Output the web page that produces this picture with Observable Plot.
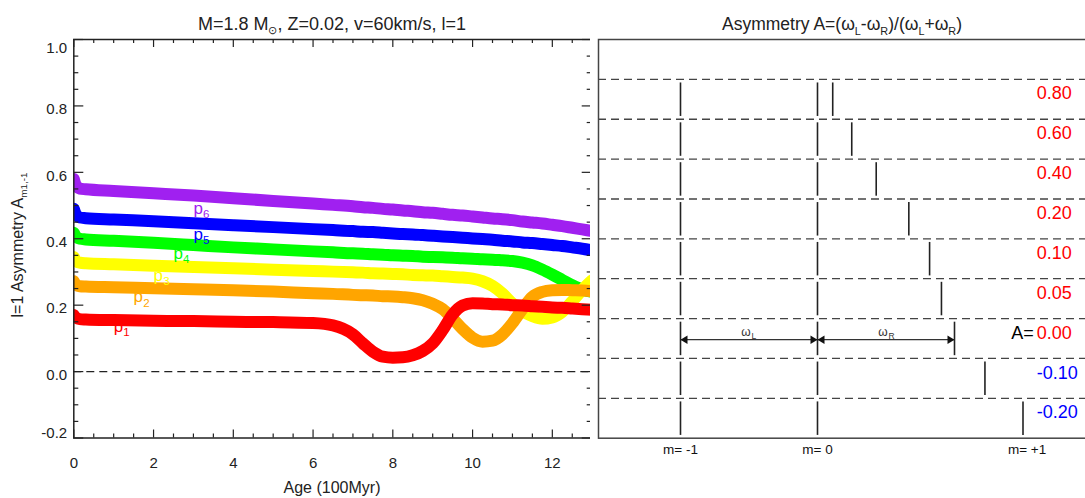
<!DOCTYPE html>
<html><head><meta charset="utf-8">
<script src="https://cdn.jsdelivr.net/npm/d3@7"></script>
<script src="https://cdn.jsdelivr.net/npm/@observablehq/plot@0.6"></script>
<style>
body{margin:0;background:#fff;overflow:hidden;font-family:"Liberation Sans",Arial,sans-serif;color:#222}
#wrap{position:relative;width:1085px;height:498px;overflow:hidden;background:#fff}
#left,#right{position:absolute;top:0}
#left{left:0}
#right{left:590px}
.t{position:absolute;white-space:nowrap;transform:translate(-50%,-50%);line-height:1}
sub{font-size:62%;vertical-align:-0.4em;line-height:0}
</style></head><body>
<div id="wrap">
  <div id="left"></div><div id="right"></div>
  <div class="t" id="t1" style="left:332px;top:24px;font-size:18px">M=1.8 M<sub>⊙</sub>, Z=0.02, v=60km/s, l=1</div>
  <div class="t" id="t2" style="left:842px;top:25px;font-size:17.5px">Asymmetry A=(ω<sub>L</sub>-ω<sub>R</sub>)/(ω<sub>L</sub>+ω<sub>R</sub>)</div>
  <div class="t" style="left:332px;top:488px;font-size:16px">Age (100Myr)</div>
  <div class="t" style="left:18px;top:245px;font-size:16px;transform:translate(-50%,-50%) rotate(-90deg)">l=1 Asymmetry A<sub>m1,-1</sub></div>
</div>
<script>
// ---------- data (left panel) ----------
const ages = [0, 0.05, 0.15, 0.3, 1, 2, 3, 4, 5, 6, 6.5, 7, 7.25, 7.5, 7.75, 8, 8.25, 8.5, 8.75, 9, 9.25, 9.5, 9.75, 10, 10.25, 10.5, 10.75, 11, 11.25, 11.5, 11.75, 12, 12.25, 12.5, 12.75, 13];
const p6 = [0.580,0.562,0.551,0.549,0.544,0.537,0.530,0.522,0.514,0.506,0.502,0.498,0.495,0.493,0.490,0.488,0.485,0.483,0.480,0.478,0.475,0.472,0.470,0.467,0.464,0.461,0.459,0.456,0.452,0.449,0.446,0.442,0.438,0.433,0.428,0.423];
const p5 = [0.490,0.474,0.464,0.462,0.458,0.453,0.447,0.441,0.435,0.429,0.426,0.423,0.421,0.420,0.418,0.416,0.414,0.413,0.411,0.409,0.407,0.405,0.403,0.401,0.399,0.397,0.394,0.392,0.389,0.387,0.384,0.381,0.378,0.374,0.370,0.365];
const p4 = [0.418,0.407,0.400,0.398,0.394,0.388,0.381,0.374,0.368,0.362,0.359,0.356,0.355,0.353,0.352,0.350,0.349,0.348,0.346,0.345,0.344,0.343,0.341,0.340,0.338,0.337,0.335,0.333,0.328,0.320,0.307,0.292,0.276,0.260,0.247,0.240];
const p3 = [0.345,0.334,0.328,0.326,0.323,0.319,0.315,0.311,0.307,0.303,0.301,0.299,0.298,0.296,0.295,0.294,0.293,0.291,0.290,0.289,0.287,0.285,0.283,0.280,0.272,0.258,0.235,0.205,0.182,0.167,0.159,0.163,0.180,0.212,0.246,0.275];
const p2 = [0.272,0.262,0.257,0.256,0.254,0.251,0.248,0.245,0.241,0.236,0.234,0.231,0.230,0.229,0.227,0.226,0.224,0.221,0.215,0.204,0.188,0.160,0.128,0.102,0.090,0.093,0.112,0.146,0.188,0.225,0.240,0.245,0.246,0.245,0.244,0.242];
const p1 = [0.170,0.162,0.158,0.157,0.155,0.153,0.152,0.150,0.149,0.146,0.139,0.112,0.085,0.060,0.045,0.042,0.043,0.049,0.062,0.085,0.125,0.172,0.199,0.206,0.205,0.203,0.202,0.200,0.199,0.197,0.195,0.193,0.192,0.190,0.188,0.186];
const seriesNames = ["p6","p5","p4","p3","p2","p1"];          // drawing order (p1 on top)
const seriesValues = {p1, p2, p3, p4, p5, p6};
const seriesColors = {p1:"#ff0000", p2:"#ffa500", p3:"#ffff00", p4:"#00ff00", p5:"#0000ff", p6:"#a020f0"};
const labelSub = ["1","2","3","4","5","6"];
const labelAge = [1.0, 1.5, 2.0, 2.5, 3.0, 3.0];
const labelA   = [0.135, 0.225, 0.289, 0.355, 0.412, 0.492];
const xTicks = [0, 2, 4, 6, 8, 10, 12];
const yTicks = [-0.2, 0.0, 0.2, 0.4, 0.6, 0.8, 1.0];

// ---------- data (right panel) ----------
const asym = [0.80, 0.60, 0.40, 0.20, 0.10, 0.05, 0.00, -0.10, -0.20];
const mLabels = ["m= -1", "m= 0", "m= +1"];
const mLabelX = [-1, 0, 1.53];
const omegaLabels = ["L", "R"];
const omegaLabelX = [-0.5, 0.5];

const ink = "#222";
const font = "'Liberation Sans', Arial, sans-serif";

// ---------- left plot ----------
const W1 = 595, H = 498, mL = 73.3, mR = 3.3, mT = 39, mB = 60.5;
const PW = W1 - mL - mR, PH = H - mT - mB;
const lineData = seriesNames.map(s => ages.map((a, i) => ({age: a, A: seriesValues[s][i], s})));
const labels = labelSub.map((n, i) => ({n, age: labelAge[i], A: labelA[i], c: seriesColors["p" + n]}));
const xMinor = d3.range(0, 13.01, 0.5).filter(v => v % 2 !== 0);
const yMinor = d3.range(-0.2, 1.001, 0.05).map(v => +v.toFixed(2)).filter(v => Math.abs(Math.round(v * 5) - v * 5) > 1e-6);

const left = Plot.plot({
  width: W1, height: H,
  marginLeft: mL, marginRight: mR, marginTop: mT, marginBottom: mB,
  x: {domain: [0, 13], axis: null},
  y: {domain: [-0.2, 1.0], axis: null},
  style: {fontFamily: font, background: "white", color: ink},
  marks: [
    Plot.ruleY([0], {stroke: ink, strokeWidth: 1.3, strokeDasharray: "8,5"}),
    ...lineData.map(d => Plot.line(d, {x: "age", y: "A", stroke: seriesColors[d[0].s], strokeWidth: 12,
      curve: "monotone-x", strokeLinecap: "round", strokeLinejoin: "round", clip: true})),
    Plot.text(labels, {x: "age", y: "A", text: () => "p", fill: "c", fontSize: 17, textAnchor: "start"}),
    Plot.text(labels, {x: "age", y: "A", text: "n", fill: "c", fontSize: 11.5, textAnchor: "start", dx: 9.6, dy: 6}),
    // inward ticks
    Plot.ruleX(xTicks, {x: d => d, insetTop: PH - 8, stroke: ink, strokeWidth: 1.2}),
    Plot.ruleX(xTicks, {x: d => d, insetBottom: PH - 8, stroke: ink, strokeWidth: 1.2}),
    Plot.ruleX(xMinor, {x: d => d, insetTop: PH - 4, stroke: ink, strokeWidth: 1.2}),
    Plot.ruleX(xMinor, {x: d => d, insetBottom: PH - 4, stroke: ink, strokeWidth: 1.2}),
    Plot.ruleY(yTicks, {y: d => d, insetRight: PW - 10, stroke: ink, strokeWidth: 1.2}),
    Plot.ruleY(yTicks, {y: d => d, insetLeft: PW - 10, stroke: ink, strokeWidth: 1.2}),
    Plot.ruleY(yMinor, {y: d => d, insetRight: PW - 5, stroke: ink, strokeWidth: 1.2}),
    Plot.ruleY(yMinor, {y: d => d, insetLeft: PW - 5, stroke: ink, strokeWidth: 1.2}),
    Plot.frame({stroke: ink, strokeWidth: 1.5}),
    // tick labels
    Plot.text(xTicks, {x: d => d, y: -0.2, text: d => String(d), dy: 25, fontSize: 15, fill: ink}),
    Plot.text(yTicks.slice(1, -1), {x: 0, y: d => d, text: d => d.toFixed(1), textAnchor: "end", dx: -6.6, dy: 3.5, fontSize: 15, fill: ink}),
    Plot.text(yTicks.slice(-1), {x: 0, y: d => d, text: d => d.toFixed(1), textAnchor: "end", dx: -6.6, dy: 9, fontSize: 15, fill: ink}),
    Plot.text(yTicks.slice(0, 1), {x: 0, y: d => d, text: d => d.toFixed(1), textAnchor: "end", dx: -6.6, dy: -4.8, fontSize: 15, fill: ink})
  ]
});
document.getElementById("left").appendChild(left);

// ---------- right plot ----------
const W2 = 495, m2L = 8;
const xDom = [-1.5985, 1.9562];           // in units of omega_L (m=-1 at -1, m=0 at 0)
const rows = asym.map((A, k) => ({A, k, wR: (1 - A) / (1 + A)}));
const segs = rows.flatMap(r => [{x: -1, k: r.k}, {x: 0, k: r.k}, {x: r.wR, k: r.k}]);
const zeroRow = rows.find(r => r.A === 0);
const arrowY = zeroRow.k + 0.53;
const shafts = [{x1: -1, x2: 0}, {x1: 0, x2: zeroRow.wR}];
const headL = {draw(c) { c.moveTo(0, 0); c.lineTo(7, -4.2); c.lineTo(7, 4.2); c.closePath(); }};
const headR = {draw(c) { c.moveTo(0, 0); c.lineTo(-7, -4.2); c.lineTo(-7, 4.2); c.closePath(); }};
const omegas = omegaLabels.map((s, i) => ({s, x: omegaLabelX[i]}));
const valueLabelX = 1.6;

const right = Plot.plot({
  width: W2, height: H,
  marginLeft: m2L, marginRight: 0, marginTop: 39, marginBottom: 60.3,
  x: {domain: xDom, axis: null},
  y: {domain: [-1, 9], reverse: true, axis: null},
  style: {fontFamily: font, background: "white", color: ink},
  marks: [
    Plot.ruleY(rows, {y: "k", stroke: "#444", strokeWidth: 1.3, strokeDasharray: "8,5"}),
    Plot.ruleX(segs, {x: "x", y1: d => d.k + 0.09, y2: d => d.k + 0.93, stroke: "#222", strokeWidth: 1.6}),
    Plot.link(shafts, {x1: "x1", x2: "x2", y1: arrowY, y2: arrowY, stroke: "#333", strokeWidth: 1.2}),
    Plot.dot(shafts, {x: "x1", y: arrowY, symbol: headL, fill: "#111", stroke: "none"}),
    Plot.dot(shafts, {x: "x2", y: arrowY, symbol: headR, fill: "#111", stroke: "none"}),
    Plot.text(omegas, {x: "x", y: zeroRow.k + 0.35, text: () => "ω", dx: -3, fontSize: 12, fill: "#333"}),
    Plot.text(omegas, {x: "x", y: zeroRow.k + 0.35, text: "s", dx: 2.5, dy: 3.5, fontSize: 8.5, fill: "#333", textAnchor: "start"}),
    Plot.text(rows, {x: valueLabelX, y: d => d.k + 0.36, text: d => d.A.toFixed(2), fill: d => d.A < 0 ? "#0000ff" : "#ff0000", textAnchor: "start", fontSize: 18}),
    Plot.text([zeroRow], {x: valueLabelX, y: d => d.k + 0.36, text: () => "A=", fill: "#000", textAnchor: "end", dx: -3, fontSize: 18}),
    Plot.text(mLabels, {x: (d, i) => mLabelX[i], y: 9, text: d => d, dy: 11.3, fontSize: 13.5, fill: "#111"}),
    Plot.frame({stroke: "#444", strokeWidth: 1.5, insetRight: -10})
  ]
});
document.getElementById("right").appendChild(right);
</script>
</body></html>
